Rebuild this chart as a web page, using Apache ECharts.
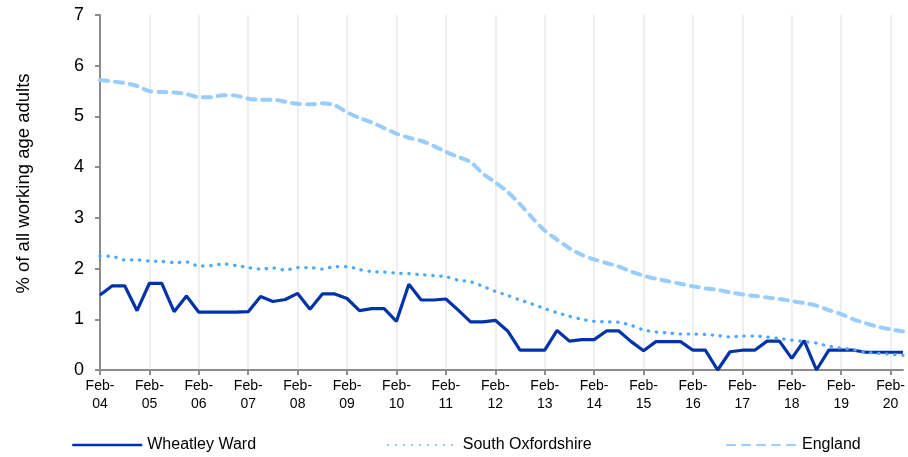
<!DOCTYPE html>
<html>
<head>
<meta charset="utf-8">
<script src="https://cdn.jsdelivr.net/npm/echarts@6/dist/echarts.min.js"></script>
<style>
  html, body { margin: 0; padding: 0; background: #fff; }
  #chart { width: 908px; height: 457px; }
</style>
</head>
<body>
<div id="chart"></div>
<script>
// quarterly points, Feb-04 .. May-20
const quarters = ['Feb', 'May', 'Aug', 'Nov'];
const years = ['04','05','06','07','08','09','10','11','12','13','14','15','16','17','18','19','20'];

const categories = [];
years.forEach(y => quarters.forEach(q => categories.push(q + '-' + y)));
categories.length = 66;

const wheatley = [
    1.48, 1.66, 1.66, 1.17, 1.71, 1.71, 1.15, 1.46,
    1.14, 1.14, 1.14, 1.14, 1.15, 1.45, 1.35, 1.39,
    1.51, 1.20, 1.50, 1.50, 1.41, 1.17, 1.21, 1.21,
    0.96, 1.69, 1.38, 1.38, 1.40, 1.18, 0.95, 0.95,
    0.98, 0.77, 0.39, 0.39, 0.39, 0.78, 0.57, 0.60,
    0.60, 0.77, 0.77, 0.56, 0.38, 0.56, 0.56, 0.56,
    0.39, 0.39, 0.00, 0.36, 0.39, 0.39, 0.57, 0.57,
    0.23, 0.58, 0.00, 0.39, 0.39, 0.39, 0.35, 0.35,
    0.35, 0.35
];

const southOxfordshire = [
    2.25, 2.24, 2.17, 2.17, 2.15, 2.14, 2.12, 2.13,
    2.05, 2.06, 2.09, 2.06, 2.02, 1.99, 2.01, 1.97,
    2.02, 2.02, 1.99, 2.04, 2.04, 1.98, 1.94, 1.93,
    1.91, 1.90, 1.88, 1.86, 1.84, 1.77, 1.74, 1.65,
    1.55, 1.47, 1.38, 1.30, 1.21, 1.13, 1.06, 1.00,
    0.96, 0.95, 0.94, 0.88, 0.79, 0.75, 0.73, 0.71,
    0.71, 0.70, 0.68, 0.65, 0.67, 0.67, 0.65, 0.62,
    0.59, 0.56, 0.53, 0.47, 0.43, 0.40, 0.35, 0.33,
    0.31, 0.29
];

const england = [
    5.72, 5.69, 5.66, 5.60, 5.50, 5.48, 5.47, 5.44,
    5.38, 5.38, 5.42, 5.41, 5.35, 5.33, 5.33, 5.29,
    5.25, 5.24, 5.26, 5.22, 5.08, 4.97, 4.88, 4.77,
    4.66, 4.58, 4.52, 4.42, 4.30, 4.20, 4.10, 3.87,
    3.70, 3.51, 3.27, 3.00, 2.75, 2.57, 2.40, 2.27,
    2.18, 2.11, 2.04, 1.94, 1.86, 1.80, 1.75, 1.70,
    1.65, 1.61, 1.58, 1.53, 1.49, 1.46, 1.43, 1.40,
    1.36, 1.32, 1.27, 1.18, 1.10, 1.00, 0.92, 0.85,
    0.80, 0.76
];

const font = '"Liberation Sans", Arial, sans-serif';
const axisGrey = '#8c8c8c';

function legendFor(name, left, width) {
    return {
        data: [name],
        left: left,
        top: 432,
        itemWidth: 70,
        itemHeight: 12,
        itemStyle: { opacity: 0 },
        lineStyle: { width: width },
        textStyle: { fontFamily: font, fontSize: 16, color: '#000' }
    };
}

const chart = echarts.init(document.getElementById('chart'));
chart.setOption({
    animation: false,
    grid: { left: 100, right: 2, top: 15, bottom: 87 },
    legend: [
        legendFor('Wheatley Ward', 66, 2.5),
        legendFor('South Oxfordshire', 382, 1.5),
        legendFor('England', 721, 2)
    ],
    xAxis: {
        type: 'category',
        boundaryGap: false,
        data: categories,
        axisLine: { lineStyle: { color: axisGrey, width: 2 } },
        axisTick: { interval: 3, length: 5, lineStyle: { color: axisGrey, width: 2 } },
        splitLine: { show: true, interval: 3, lineStyle: { color: '#eeeeee', width: 2 } },
        axisLabel: {
            interval: 3,
            margin: 7,
            color: '#000',
            fontFamily: font,
            fontSize: 14,
            lineHeight: 18,
            formatter: v => v.replace('-', '-\n')
        }
    },
    yAxis: {
        type: 'value',
        min: 0,
        max: 7,
        interval: 1,
        name: '% of all working age adults',
        nameLocation: 'middle',
        nameGap: 67,
        nameTextStyle: { fontFamily: font, fontSize: 18.5, color: '#000', padding: [0, 0, 0, 18] },
        axisLine: { show: true, lineStyle: { color: axisGrey, width: 2 } },
        axisTick: { show: true, length: 5, lineStyle: { color: axisGrey, width: 2 } },
        splitLine: { show: false },
        axisLabel: { margin: 16, color: '#000', fontFamily: font, fontSize: 18 }
    },
    series: [
        {
            name: 'Wheatley Ward',
            type: 'line',
            data: wheatley,
            symbol: 'none',
            color: '#0033aa',
            lineStyle: { width: 3.2, color: '#0033aa' }
        },
        {
            name: 'South Oxfordshire',
            type: 'line',
            data: southOxfordshire,
            symbol: 'none',
            smooth: 0.3,
            color: '#4da6ff',
            lineStyle: { width: 3.2, color: '#4da6ff', type: [0.5, 7.5], cap: 'round' }
        },
        {
            name: 'England',
            type: 'line',
            data: england,
            symbol: 'none',
            smooth: 0.3,
            color: '#99ccff',
            lineStyle: { width: 4, color: '#99ccff', type: [8, 7], cap: 'round' }
        }
    ]
});
</script>
</body>
</html>
